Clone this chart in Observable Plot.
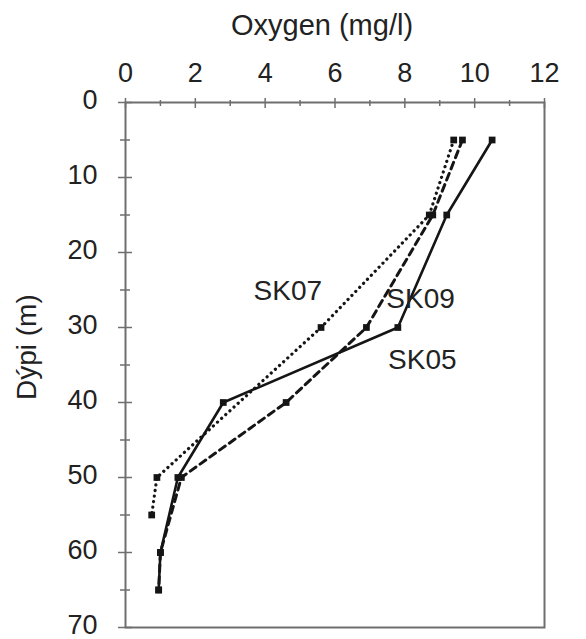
<!DOCTYPE html>
<html><head><meta charset="utf-8">
<script src="https://cdn.jsdelivr.net/npm/d3@7"></script>
<script src="https://cdn.jsdelivr.net/npm/@observablehq/plot@0.6"></script>
<style>
body{margin:0;background:#fff}
#chart{width:586px;height:639px}
</style>
</head><body><div id="chart"></div>
<script>
// Oxygen profiles (mg/l) by depth (m)
const depthSK05 = [5, 15, 30, 40, 50, 60, 65];
const oxygenSK05 = [10.5, 9.2, 7.8, 2.8, 1.5, 1.0, 0.95];
const depthSK07 = [5, 15, 30, 50, 55];
const oxygenSK07 = [9.4, 8.7, 5.6, 0.9, 0.75];
const depthSK09 = [5, 15, 30, 40, 50, 60, 65];
const oxygenSK09 = [9.65, 8.8, 6.9, 4.6, 1.6, 1.0, 0.95];

const stationNames = ["SK05", "SK07", "SK09"];
const labelOxygen = [8.5, 4.65, 8.45];
const labelDepth = [34.3, 25.2, 26.2];

const xTicks = [0, 2, 4, 6, 8, 10, 12];
const xMinorTicks = [1, 3, 5, 7, 9, 11];
const yTicks = [0, 10, 20, 30, 40, 50, 60, 70];
const yMinorTicks = [5, 15, 25, 35, 45, 55, 65];

const xTitle = "Oxygen (mg/l)";
const yTitle = "Dýpi (m)";

const series = (depths, oxygen) => depths.map((d, i) => ({depth: d, oxygen: oxygen[i]}));
const sk05 = series(depthSK05, oxygenSK05);
const sk07 = series(depthSK07, oxygenSK07);
const sk09 = series(depthSK09, oxygenSK09);
const labels = stationNames.map((s, i) => ({name: s, oxygen: labelOxygen[i], depth: labelDepth[i]}));

const axisGray = "#6f6f6f";
const ink = "#151515";

const chart = Plot.plot({
  width: 586,
  height: 639,
  marginTop: 102,
  marginLeft: 125,
  marginRight: 42,
  marginBottom: 12,
  x: {domain: [0, 12]},
  y: {domain: [0, 70], reverse: true},
  style: {fontFamily: "'Liberation Sans', Arial, Helvetica, sans-serif", fontSize: "27px", color: "#222", background: "#fff"},
  marks: [
    Plot.frame({stroke: axisGray, strokeWidth: 2}),
    // major & minor ticks crossing the axes
    Plot.axisX(xTicks, {anchor: "top", tickSize: 10, dy: 5, fill: "none", stroke: axisGray, strokeWidth: 1.5, label: null}),
    Plot.axisX(xMinorTicks, {anchor: "top", tickSize: 6, dy: 3, fill: "none", stroke: axisGray, strokeWidth: 1.5, label: null}),
    Plot.axisY(yTicks, {anchor: "left", tickSize: 14, dx: 7, fill: "none", stroke: axisGray, strokeWidth: 1.5, label: null}),
    Plot.axisY(yMinorTicks, {anchor: "left", tickSize: 10, dx: 5, fill: "none", stroke: axisGray, strokeWidth: 1.5, label: null}),
    // tick labels
    Plot.axisX(xTicks, {anchor: "top", tickSize: 0, tickPadding: 21, label: null, fill: "#222", fontSize: 27}),
    Plot.axisY(yTicks, {anchor: "left", tickSize: 0, tickPadding: 28, dy: -2, label: null, fill: "#222", fontSize: 27}),
    // axis titles
    Plot.text([xTitle], {frameAnchor: "top", dx: -13, dy: -88, fontSize: 29, fill: "#222"}),
    Plot.text([yTitle], {frameAnchor: "left", rotate: -90, dx: -98, dy: 35, fontSize: 28, fill: "#222"}),
    // profiles
    Plot.line(sk07, {x: "oxygen", y: "depth", stroke: ink, strokeWidth: 3.2, strokeDasharray: "0.1,5.5", strokeLinecap: "round"}),
    Plot.line(sk09, {x: "oxygen", y: "depth", stroke: ink, strokeWidth: 3, strokeDasharray: "7,5"}),
    Plot.line(sk05, {x: "oxygen", y: "depth", stroke: ink, strokeWidth: 2.6}),
    Plot.dot(sk07, {x: "oxygen", y: "depth", symbol: "square", r: 3.8, fill: ink}),
    Plot.dot(sk09, {x: "oxygen", y: "depth", symbol: "square", r: 3.8, fill: ink}),
    Plot.dot(sk05, {x: "oxygen", y: "depth", symbol: "square", r: 3.8, fill: ink}),
    // series labels
    Plot.text(labels, {x: "oxygen", y: "depth", text: "name", fontSize: 28, fill: "#222"})
  ]
});
document.getElementById("chart").append(chart);
</script>
</body></html>
